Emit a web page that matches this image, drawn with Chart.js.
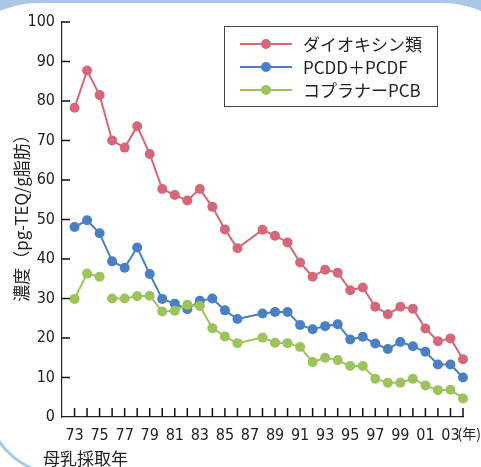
<!DOCTYPE html>
<html>
<head>
<meta charset="utf-8">
<script src="https://cdn.jsdelivr.net/npm/chart.js@4.4.1/dist/chart.umd.min.js"></script>
<style>
  html, body { margin: 0; padding: 0; }
  body { width: 481px; height: 467px; overflow: hidden; position: relative; background: #abc7e6; }
  #panel { position: absolute; left: -30px; top: 3px; width: 541px; height: 520px; background: #fff; border-radius: 70px 70px 0 0 / 45px 45px 0 0; }
  #arcClip { position: absolute; left: 0; top: 425px; width: 45px; height: 42px; overflow: hidden; }
  #arc { position: absolute; left: -15px; top: -100px; width: 144px; height: 144px; border: 3px solid #abc7e6; border-radius: 50%; }
  #wrap { position: absolute; left: 0; top: 0; }
</style>
</head>
<body>
<div id="panel"></div>
<div id="arcClip"><div id="arc"></div></div>
<div id="wrap"><canvas id="chart" width="481" height="467"></canvas></div>
<script>
// survey years (1987 has no sample)
const years = [1973, 1974, 1975, 1976, 1977, 1978, 1979, 1980, 1981, 1982, 1983, 1984, 1985, 1986,
  1988, 1989, 1990, 1991, 1992, 1993, 1994, 1995, 1996, 1997, 1998, 1999, 2000, 2001, 2002, 2003, 2004];

const dioxins = [78.3, 87.7, 81.5, 70.0, 68.2, 73.6, 66.6, 57.7, 56.2, 54.8, 57.7, 53.2, 47.5, 42.7,
  47.4, 45.9, 44.2, 39.1, 35.5, 37.3, 36.5, 32.1, 32.8, 27.9, 26.0, 27.9, 27.4, 22.4, 19.2, 19.9, 14.6];
const pcddPcdf = [48.1, 49.8, 46.5, 39.4, 37.8, 42.9, 36.2, 29.9, 28.7, 27.3, 29.4, 30.0, 27.0, 24.8,
  26.2, 26.6, 26.6, 23.3, 22.2, 23.0, 23.5, 19.6, 20.3, 18.6, 17.2, 19.0, 17.9, 16.5, 13.3, 13.3, 10.0];
const coplanarPcb = [29.9, 36.3, 35.5, 30.0, 30.0, 30.6, 30.7, 26.7, 26.9, 28.4, 28.1, 22.5, 20.4, 18.7,
  20.1, 18.8, 18.7, 17.7, 13.9, 15.0, 14.4, 12.9, 12.9, 9.7, 8.7, 8.7, 9.7, 8.0, 6.8, 6.9, 4.7];

const seriesNames = ["ダイオキシン類", "PCDD＋PCDF", "コプラナーPCB"];
const tickYears = [1973, 1975, 1977, 1979, 1981, 1983, 1985, 1987, 1989, 1991, 1993, 1995, 1997, 1999, 2001, 2003];
const tickLabels = ["73", "75", "77", "79", "81", "83", "85", "87", "89", "91", "93", "95", "97", "99", "01", "03"];

const RED = "#d4687a";
const BLUE = "#4a7fc3";
const GREEN = "#9cc45a";
const numFont = "'Liberation Sans Narrow', 'DejaVu Sans Condensed', sans-serif";
const jpFont = "'Noto Sans CJK JP', sans-serif";

function pts(vals) {
  return vals.map(function (v, i) { return { x: years[i], y: v }; });
}

function makeSet(label, vals, color, order) {
  return {
    label: label,
    data: pts(vals),
    borderColor: color,
    backgroundColor: color,
    borderWidth: 2,
    pointRadius: 5,
    pointHoverRadius: 5,
    pointBorderWidth: 0,
    order: order,
    tension: 0,
    clip: false,
  };
}

let greenSet = makeSet(seriesNames[2], coplanarPcb, GREEN, 0);
// no line between 1975 and 1976 for coplanar PCB
greenSet.segment = {
  borderColor: function (ctx) { return ctx.p0.parsed.x === 1975 ? "rgba(0,0,0,0)" : undefined; },
};

const decor = {
  id: "decor",
  afterDraw: function (chart) {
    const ctx = chart.ctx;
    const xs = chart.scales.x;
    const ys = chart.scales.y;
    const area = chart.chartArea;
    ctx.save();

    // tick marks pointing into the plot
    ctx.strokeStyle = "#111";
    ctx.lineWidth = 1.5;
    ctx.beginPath();
    xs.ticks.forEach(function (t) {
      if (t.value <= 1972) return;
      const px = xs.getPixelForValue(t.value);
      ctx.moveTo(px, area.bottom);
      ctx.lineTo(px, area.bottom - 9);
    });
    ys.ticks.forEach(function (t) {
      if (t.value <= 0) return;
      const py = ys.getPixelForValue(t.value);
      ctx.moveTo(area.left, py);
      ctx.lineTo(area.left + 8, py);
    });
    ctx.stroke();

    // "(年)" after the last tick label
    ctx.fillStyle = "#222";
    ctx.textBaseline = "middle";
    ctx.textAlign = "left";
    ctx.font = "14px " + jpFont;
    ctx.fillText("(年)", xs.getPixelForValue(2003) + 7, 434);

    // x title
    ctx.font = "17px " + jpFont;
    ctx.fillText("母乳採取年", 43, 459);

    // y title
    ctx.save();
    ctx.translate(22, 214);
    ctx.rotate(-Math.PI / 2);
    ctx.textAlign = "center";
    ctx.fillText("濃度（pg-TEQ/g脂肪）", 0, 0);
    ctx.restore();

    // legend
    const colors = [RED, BLUE, GREEN];
    ctx.strokeStyle = "#444";
    ctx.lineWidth = 1;
    ctx.strokeRect(224.5, 26.5, 213, 80);
    for (let i = 0; i < 3; i++) {
      const ry = 44 + i * 23;
      ctx.strokeStyle = colors[i];
      ctx.lineWidth = 2;
      ctx.beginPath();
      ctx.moveTo(240, ry);
      ctx.lineTo(292, ry);
      ctx.stroke();
      ctx.fillStyle = colors[i];
      ctx.beginPath();
      ctx.arc(266, ry, 5, 0, Math.PI * 2);
      ctx.fill();
      ctx.fillStyle = "#222";
      ctx.textAlign = "left";
      ctx.font = "17px " + jpFont;
      ctx.fillText(seriesNames[i], 303, ry + 1);
    }
    ctx.restore();
  },
};

new Chart(document.getElementById("chart"), {
  type: "line",
  data: {
    datasets: [
      makeSet(seriesNames[0], dioxins, RED, 2),
      makeSet(seriesNames[1], pcddPcdf, BLUE, 1),
      greenSet,
    ],
  },
  options: {
    responsive: false,
    animation: false,
    events: [],
    layout: { padding: { top: 22, right: 18, left: 0, bottom: 0 } },
    plugins: { legend: { display: false }, tooltip: { enabled: false } },
    scales: {
      x: {
        type: "linear",
        min: 1972,
        max: 2004,
        afterFit: function (s) { s.height = 50; },
        grid: { display: false, drawTicks: false },
        border: { display: true, color: "#222", width: 1.2 },
        ticks: {
          stepSize: 1,
          autoSkip: false,
          maxRotation: 0,
          padding: 9,
          color: "#222",
          font: { family: numFont, size: 16 },
          callback: function (v) {
            const i = tickYears.indexOf(v);
            return i >= 0 ? tickLabels[i] : "";
          },
        },
      },
      y: {
        min: 0,
        max: 100,
        afterFit: function (s) { s.width = 62; },
        grid: { display: false, drawTicks: false },
        border: { display: true, color: "#222", width: 1.2 },
        ticks: {
          stepSize: 10,
          padding: 7,
          color: "#222",
          font: { family: numFont, size: 16 },
        },
      },
    },
  },
  plugins: [decor],
});
</script>
</body>
</html>
